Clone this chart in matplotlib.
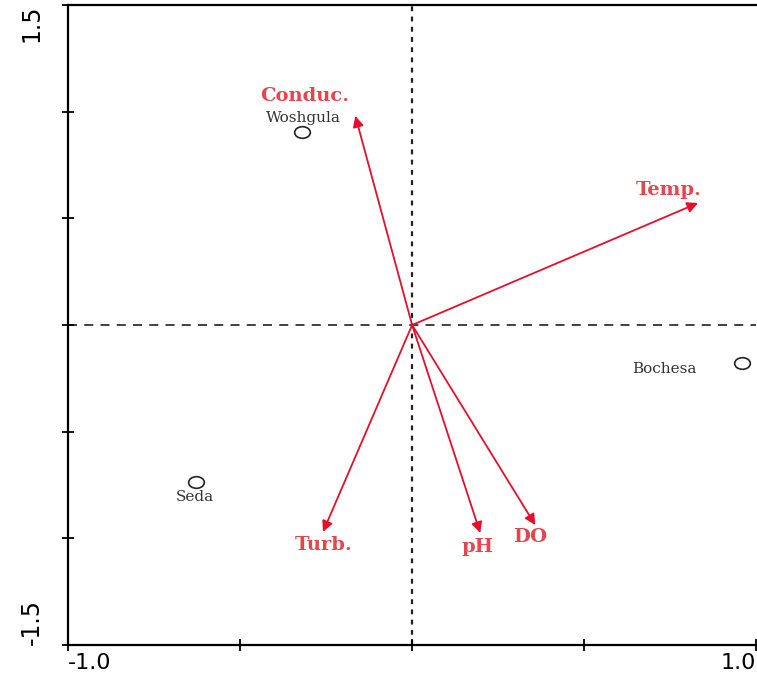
import matplotlib
matplotlib.use("Agg")
import matplotlib.pyplot as plt
from matplotlib.markers import MarkerStyle
from matplotlib.transforms import Affine2D

# Environmental variable vectors (biplot scores)
variables = ["Conduc.", "Temp.", "Turb.", "pH", "DO"]
var_x = [-0.165, 0.831, -0.259, 0.198, 0.358]
var_y = [0.980, 0.572, -0.970, -0.975, -0.938]
var_label_x = [-0.311, 0.747, -0.256, 0.189, 0.343]
var_label_y = [1.074, 0.633, -1.031, -1.041, -0.994]

# Sampling sites
sites = ["Woshgula", "Bochesa", "Seda"]
site_x = [-0.320, 0.959, -0.628]
site_y = [0.907, -0.178, -0.736]
site_label_x = [-0.317, 0.733, -0.631]
site_label_y = [0.970, -0.206, -0.806]

x_ticks = [-1.0, -0.5, 0.0, 0.5, 1.0]
x_ticklabels = ["-1.0", "", "", "", "1.0"]
y_ticks = [-1.5, -1.0, -0.5, 0.0, 0.5, 1.0, 1.5]
y_ticklabels = ["-1.5", "", "", "", "", "", "1.5"]

ARROW_RED = "#e3102c"
LABEL_RED = "#e5454c"

fig = plt.figure(figsize=(7.57, 6.77), dpi=100)
ax = fig.add_axes([68 / 757, 1 - 645 / 677, 1 - 68 / 757 - 0.001, (645 - 5) / 677])
ax.set_xlim(-1.0, 1.0)
ax.set_ylim(-1.5, 1.5)

ax.spines["right"].set_visible(False)
for s in ("left", "bottom", "top"):
    ax.spines[s].set_linewidth(1.6)
    ax.spines[s].set_color("black")

ax.set_xticks(x_ticks)
ax.set_xticklabels(x_ticklabels)
ax.set_yticks(y_ticks)
ax.set_yticklabels(y_ticklabels)
ax.tick_params(axis="both", direction="inout", length=8, width=1.3,
               colors="black")
ax.tick_params(axis="x", pad=2, labelsize=16)
ax.tick_params(axis="y", pad=22, labelsize=17)
xl = ax.get_xticklabels()
for lab in xl:
    lab.set_fontfamily("DejaVu Sans")
xl[0].set_horizontalalignment("left")
xl[-1].set_horizontalalignment("right")
yl = ax.get_yticklabels()
for lab in yl:
    lab.set_rotation(90)
    lab.set_fontfamily("DejaVu Sans")
    lab.set_horizontalalignment("center")
yl[0].set_verticalalignment("bottom")
yl[-1].set_verticalalignment("top")

# Reference axes through the origin
ax.axvline(0, color="#222222", lw=1.6, linestyle=(0, (2.2, 2.4)), zorder=1)
ax.axhline(0, color="#333333", lw=1.3, linestyle=(0, (5.0, 4.0)), zorder=1)

# Environmental vectors
for name, x, y, lx, ly in zip(variables, var_x, var_y, var_label_x, var_label_y):
    ax.annotate("", xy=(x, y), xytext=(0, 0),
                arrowprops=dict(arrowstyle="-|>", color=ARROW_RED, lw=1.3,
                                mutation_scale=16, shrinkA=0, shrinkB=0),
                zorder=3)
    ax.text(lx, ly, name, color=LABEL_RED, fontsize=14, fontweight="bold",
            family="DejaVu Serif", ha="center", va="center", zorder=4)

# Site scores
oval = MarkerStyle("o", transform=Affine2D().scale(1.35, 1.0))
ax.scatter(site_x, site_y, marker=oval, s=70, facecolors="white",
           edgecolors="#222222", linewidths=1.2, zorder=5)
for name, lx, ly in zip(sites, site_label_x, site_label_y):
    ax.text(lx, ly, name, color="#333333", fontsize=11, family="DejaVu Serif",
            ha="center", va="center", zorder=4)

fig.savefig("out.png", dpi=100)
